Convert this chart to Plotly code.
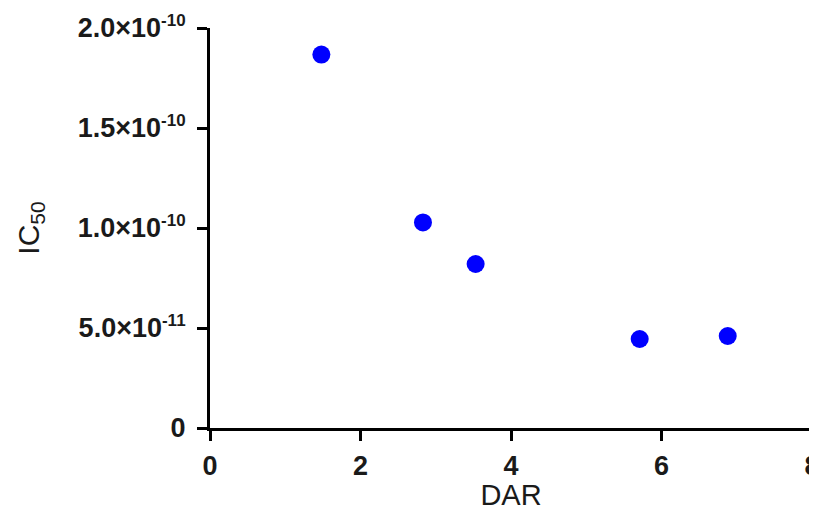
import plotly.graph_objects as go

dar = [1.48, 2.83, 3.53, 5.71, 6.88]
ic50 = [1.867e-10, 1.028e-10, 0.82e-10, 0.445e-10, 0.46e-10]

y_tickvals = [0, 5e-11, 1e-10, 1.5e-10, 2e-10]
y_mant = ["0", "5.0×10", "1.0×10", "1.5×10", "2.0×10"]
y_exp = ["", "-11", "-10", "-10", "-10"]
x_tickvals = [0, 2, 4, 6, 8]

y_ticktext = [m if not e else m + "<sup><span style='font-size:17px'>" + e + "</span></sup>"
              for m, e in zip(y_mant, y_exp)]

fig = go.Figure()
fig.add_trace(go.Scatter(
    x=dar, y=ic50, mode="markers",
    marker=dict(color="#0000ff", size=18, line=dict(width=0)),
    cliponaxis=False, showlegend=False,
))

fnt = "Liberation Sans, Arial, sans-serif"
tick_font = dict(size=27, family=fnt, weight="bold", color="#1a1a1a")
# page body has an 8px margin; compensate so the plot area sits at x 210-812, y 28-428
# and keep the page from overflowing (no scrollbars)
fig.update_layout(
    width=809, height=503,
    margin=dict(l=202, r=5, t=20, b=83),
    plot_bgcolor="white", paper_bgcolor="white",
    font=dict(family=fnt, color="#1a1a1a"),
)
fig.update_xaxes(
    range=[0, 8], tickvals=x_tickvals, automargin=False,
    showgrid=False, zeroline=False,
    showline=True, linecolor="black", linewidth=3,
    ticks="outside", ticklen=10, tickwidth=3, tickcolor="black",
    tickfont=tick_font, ticklabelstandoff=2, ticklabeloverflow="allow",
    title=dict(text="DAR", font=dict(size=29, family=fnt, color="#1a1a1a"), standoff=22),
)
fig.update_yaxes(
    range=[0, 2e-10], tickvals=y_tickvals, ticktext=y_ticktext, automargin=False,
    showgrid=False, zeroline=False,
    showline=True, linecolor="black", linewidth=3,
    ticks="outside", ticklen=10, tickwidth=3, tickcolor="black",
    tickfont=tick_font, ticklabelstandoff=6,
    title=dict(text="IC<sub>50</sub>", font=dict(size=30, family=fnt, color="#1a1a1a"), standoff=30),
)

fig.write_html("out.html")
